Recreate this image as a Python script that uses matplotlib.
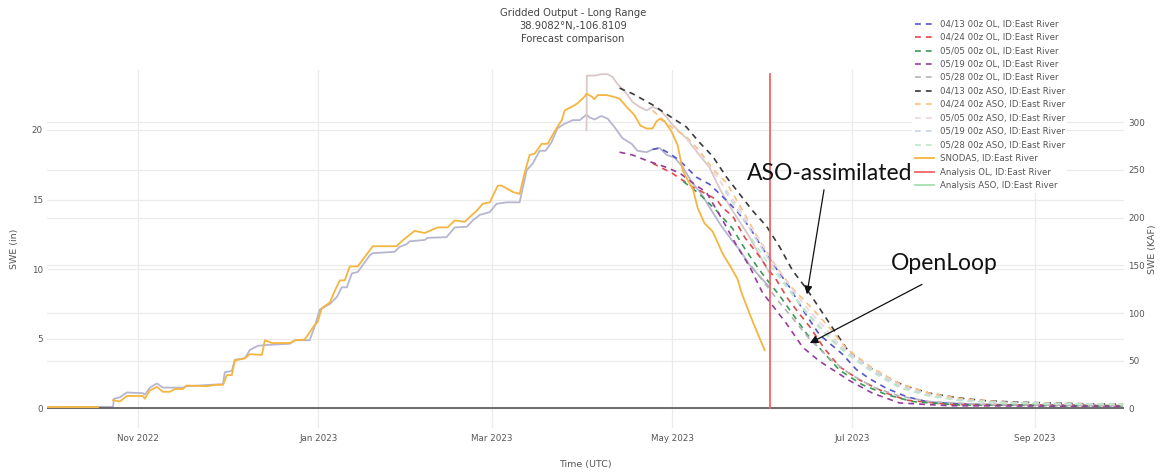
import numpy as np
import matplotlib
matplotlib.use('Agg')
import matplotlib.pyplot as plt
import matplotlib.dates as mdates

# SWE in inches, x = days since 2022-10-01 (start of water year)
nan = np.nan

snodas_day = [0, 17.3, 20, 22.4, 24.7, 27.1, 32.5, 33.2, 34.9, 37.3, 39.3, 41.7, 43.4, 46.1, 47.4, 54.2, 56.9, 59.7,
              61.0, 62.7, 63.7, 67.1, 68.8, 72.9, 73.9, 76.3, 82.4, 84.1, 87.4, 90.8, 91.8, 93.2, 95.9, 97.5, 99.3,
              101.0, 102.7, 105.4, 110.5, 118.6, 120.3, 122.0, 124.7, 128.1, 132.5, 135.9, 138.3, 141.7, 143.4,
              145.8, 147.8, 150.2, 152.9, 154.2, 158.0, 160.3, 162.0, 163.7, 165.4, 167.8, 169.8, 172.2, 174.6,
              175.6, 177.9, 179.9, 182.4, 183.0, 184.7, 185.7, 186.8, 189.8, 191.8, 194.2, 196.6, 199.3, 201.3,
              203.4, 205.4, 206.7, 207.8, 209.5, 211.8, 213.9, 215.6, 217.3, 219.0, 220.7, 223.0, 225.8, 229.2,
              232.2, 234.2, 235.6, 238.3, 241.0, 243.4]
snodas_swe = [0.1, 0.1, nan, 0.6, 0.5, 0.9, 0.9, 0.7, 1.3, 1.55, 1.2, 1.2, 1.4, 1.4, 1.65, 1.6, 1.7, 1.7,
              2.4, 2.4, 3.45, 3.6, 3.9, 3.85, 4.9, 4.7, 4.7, 4.9, 4.95, 6.0, 6.2, 7.2, 7.6, 8.4, 9.2,
              9.2, 10.2, 10.2, 11.65, 11.65, 12.0, 12.3, 12.75, 12.6, 13.0, 13.0, 13.5, 13.4, 13.75,
              14.2, 14.7, 14.8, 16.0, 16.0, 15.55, 15.4, 16.9, 18.2, 18.3, 19.0, 19.0, 19.9, 20.7,
              21.4, 21.65, 21.9, 22.4, 22.6, 22.4, 22.2, 22.5, 22.5, 22.4, 22.25, 21.65, 21.05, 20.3,
              20.1, 20.1, 20.6, 20.8, 20.6, 19.9, 18.9, 17.1, 16.4, 15.8, 14.4, 13.3, 12.7, 11.1,
              10.06, 9.3, 8.3, 6.8, 5.4, 4.2]

# model analysis curves (not in legend)
ol_ana_day = [0, 22.4, 22.7, 24.7, 27.1, 32.5, 33.2, 34.9, 37.3, 39.3, 46.1, 47.4, 59.7, 60.3, 62.7, 63.7, 67.1,
              68.8, 71.5, 73.9, 82.4, 84.1, 89.1, 90.8, 92.5, 95.9, 98.3, 100.0, 101.7, 103.4, 105.4, 109.5,
              110.5, 117.9, 119.6, 122.0, 123.0, 128.1, 129.1, 135.5, 138.3, 142.4, 144.4, 146.8, 150.2, 152.5,
              155.9, 160.3, 162.7, 164.8, 167.1, 169.1, 171.1, 173.1, 175.6, 178.3, 180.7, 183.0, 184.0, 185.7,
              188.1, 190.2, 192.5, 195.2, 198.3, 200.3, 203.4, 205.4, 207.8, 210.2, 212.9, 215.6, 217.3, 219.0,
              221.3, 223.7, 228.1, 232.2, 234.9, 238.3, 241.7, 245.1]
ol_ana_swe = [0.1, 0.12, 0.7, 0.8, 1.15, 1.1, 1.0, 1.5, 1.8, 1.5, 1.5, 1.6, 1.75, 2.6, 2.7, 3.5, 3.6,
              4.2, 4.5, 4.55, 4.65, 4.9, 4.9, 5.9, 7.1, 7.5, 8.0, 8.7, 8.7, 9.7, 9.8, 11.0,
              11.15, 11.25, 11.6, 11.8, 12.0, 12.1, 12.25, 12.3, 13.0, 13.05, 13.5, 13.9, 14.1, 14.7,
              14.8, 14.8, 17.1, 17.6, 18.5, 18.5, 19.1, 20.1, 20.45, 20.7, 20.7, 21.1, 20.9, 20.75,
              21.0, 20.8, 20.2, 19.4, 19.0, 18.5, 18.4, 18.6, 18.7, 18.2, 18.0, 17.35, 16.75, 16.15,
              15.6, 14.8, 13.3, 12.1, 11.4, 10.3, 9.5, 8.7]
aso_ana_day = [183.0, 183.1, 185.7, 188.1, 190.2, 191.8, 193.5, 196.6, 198.6, 201.0, 203.4, 205.4, 207.8,
               210.2, 211.8, 214.6, 216.9, 219.0, 221.3, 224.7, 228.1, 232.2, 235.6, 238.3, 241.7, 245.1]
aso_ana_swe = [20.0, 23.9, 23.9, 24.0, 24.0, 23.8, 23.3, 22.6, 22.0, 21.65, 21.4, 21.65, 21.45,
               20.9, 20.45, 19.85, 19.4, 18.8, 18.2, 17.3, 15.8, 14.3, 13.2, 12.3, 11.0, 9.7]

# forecasts
ol_0413_day = [205.4, 207.8, 211.2, 214.6, 220.3, 224.7, 229.2, 233.9, 238.3, 242.7, 247.5, 251.9, 256.3,
               262.0, 269.8, 274.5, 278.9, 284.7, 291.5, 299.3, 312.9, 340.0, 365.0]
ol_0413_swe = [18.6, 18.7, 18.3, 17.8, 16.6, 16.1, 15.2, 14.2, 13.0, 11.5, 10.0, 8.7, 7.1,
               5.3, 3.9, 2.8, 2.15, 1.45, 0.85, 0.45, 0.3, 0.22, 0.2]
ol_0424_day = [205.4, 212.0, 219.0, 223.6, 227.1, 229.2, 232.6, 236.6, 241.7, 244.4, 247.5, 251.2, 255.2,
               258.6, 263.7, 268.8, 275.6, 284.7, 291.5, 306.0, 365.0]
ol_0424_swe = [17.6, 16.9, 15.9, 15.4, 15.0, 14.4, 13.8, 12.3, 10.9, 10.05, 9.2, 7.9, 6.8,
               5.9, 4.3, 3.0, 2.05, 1.1, 0.6, 0.3, 0.2]
ol_0505_day = [215.8, 221.3, 227.1, 232.6, 236.0, 239.3, 243.4, 248.5, 252.5, 257.9, 263.7, 268.8, 276.6,
               284.7, 293.5, 309.5, 365.0]
ol_0505_swe = [16.3, 15.4, 14.2, 12.9, 11.7, 10.65, 9.45, 8.1, 6.9, 5.3, 3.95, 2.75, 1.7,
               1.0, 0.5, 0.25, 0.18]
ol_0519_day = [194.2, 198.6, 203.4, 210.2, 214.6, 219.0, 223.7, 229.2, 233.9, 238.3, 242.7, 246.8, 250.8,
               256.3, 262.0, 266.4, 272.2, 280.0, 289.1, 306.0, 365.0]
ol_0519_swe = [18.4, 18.2, 17.8, 17.3, 16.9, 16.2, 15.5, 13.5, 11.7, 10.2, 8.3, 7.2, 6.1,
               4.4, 3.4, 2.8, 2.0, 1.1, 0.4, 0.2, 0.15]
ol_0528_day = [239.0, 243.4, 248.5, 253.6, 258.6, 265.4, 272.2, 280.6, 289.1, 299.3, 316.3, 365.0]
ol_0528_swe = [10.2, 9.0, 7.6, 6.3, 5.0, 3.6, 2.5, 1.5, 0.9, 0.5, 0.3, 0.2]

aso_0413_day = [194.2, 198.6, 205.4, 211.8, 216.9, 221.3, 225.8, 230.5, 234.9, 239.3, 244.0, 248.5, 252.9,
                257.6, 262.0, 266.4, 272.2, 277.9, 284.7, 291.5, 299.3, 309.5, 318.6, 329.8, 346.8, 365.0]
aso_0413_swe = [23.0, 22.6, 21.8, 20.9, 20.2, 19.1, 18.1, 16.6, 15.4, 14.2, 13.1, 11.6, 9.9,
                8.6, 7.2, 5.8, 4.0, 3.1, 2.2, 1.6, 1.1, 0.75, 0.55, 0.45, 0.36, 0.3]
aso_0424_day = [205.4, 211.8, 216.9, 221.3, 225.8, 230.5, 236.0, 241.0, 247.3, 252.5, 257.6, 260.3, 265.4,
                271.2, 280.0, 289.1, 299.3, 310.0, 325.0, 345.0, 365.0]
aso_0424_swe = [21.4, 20.2, 19.5, 18.5, 17.2, 16.2, 14.2, 12.3, 10.2, 8.7, 7.6, 7.0, 5.8,
                4.3, 2.9, 1.8, 1.1, 0.7, 0.45, 0.35, 0.3]
aso_0505_day = [216.9, 221.3, 226.0, 230.0, 235.0, 241.0, 247.0, 252.0, 257.0, 262.0, 267.0, 272.0, 280.0,
                289.0, 299.0, 310.0, 325.0, 345.0, 365.0]
aso_0505_swe = [19.4, 18.3, 17.0, 15.8, 14.3, 12.3, 10.3, 8.8, 7.4, 6.2, 5.0, 4.0, 2.8,
                1.7, 1.0, 0.6, 0.42, 0.32, 0.28]
aso_0519_day = [230.0, 235.0, 241.0, 247.0, 252.0, 257.0, 262.0, 267.0, 272.0, 280.0, 289.0, 299.0, 310.0,
                325.0, 345.0, 365.0]
aso_0519_swe = [15.6, 14.0, 12.0, 10.0, 8.5, 7.1, 5.9, 4.8, 3.9, 2.7, 1.6, 0.95, 0.6,
                0.42, 0.35, 0.3]
aso_0528_day = [239.0, 244.0, 248.0, 252.0, 257.0, 262.0, 267.0, 272.0, 280.0, 289.0, 299.0, 310.0, 325.0,
                345.0, 365.0]
aso_0528_swe = [12.2, 10.6, 9.5, 8.4, 7.0, 5.8, 4.7, 3.8, 2.6, 1.5, 0.9, 0.55, 0.4,
                0.33, 0.3]

analysis_day = 245.1          # current analysis date (red line)
analysis_span = [0, 24.0]
kaf_per_in = 14.6             # right axis conversion

forecasts = [
    ('04/13 00z OL, ID:East River', ol_0413_day, ol_0413_swe, '#5555cc'),
    ('04/24 00z OL, ID:East River', ol_0424_day, ol_0424_swe, '#dd4a4a'),
    ('05/05 00z OL, ID:East River', ol_0505_day, ol_0505_swe, '#3c9a55'),
    ('05/19 00z OL, ID:East River', ol_0519_day, ol_0519_swe, '#963c9e'),
    ('05/28 00z OL, ID:East River', ol_0528_day, ol_0528_swe, '#b4b4b4'),
    ('04/13 00z ASO, ID:East River', aso_0413_day, aso_0413_swe, '#3a3a3a'),
    ('04/24 00z ASO, ID:East River', aso_0424_day, aso_0424_swe, '#f7c27e'),
    ('05/05 00z ASO, ID:East River', aso_0505_day, aso_0505_swe, '#ecd3da'),
    ('05/19 00z ASO, ID:East River', aso_0519_day, aso_0519_swe, '#c6d6e6'),
    ('05/28 00z ASO, ID:East River', aso_0528_day, aso_0528_swe, '#bde8c8'),
]

base = mdates.date2num(np.datetime64('2022-10-01'))


def wy(days):
    return base + np.asarray(days, dtype=float)


plt.rcParams['font.family'] = 'DejaVu Sans'
W, H = 1161, 475
fig = plt.figure(figsize=(W / 100, H / 100), dpi=100)
ax = fig.add_axes([47 / W, 1 - 428 / H, (1124 - 47) / W, (428 - 70) / H])
ax2 = ax.twinx()
ax.set_zorder(ax2.get_zorder() + 1)
ax.patch.set_visible(False)

#analysis lines behind everything
ax.plot(wy(ol_ana_day), ol_ana_swe, color='#b6b6d0', lw=1.3, zorder=2)
ax.plot(wy(aso_ana_day), aso_ana_swe, color='#dac8c8', lw=1.3, zorder=2)

for label, d, s, c in forecasts:
    ax.plot(wy(d), s, color=c, lw=1.2, dashes=(3.5, 3), label=label, zorder=3)

ax.plot(wy(snodas_day), snodas_swe, color='#f5b540', lw=1.3, label='SNODAS, ID:East River', zorder=4)
ax.plot(wy([analysis_day, analysis_day]), analysis_span, color='#f06464', lw=1.3,
        label='Analysis OL, ID:East River', zorder=5)
ax.plot([], [], color='#a6e0b2', lw=1.3, label='Analysis ASO, ID:East River')

# axes
ax.set_xlim(wy(0), wy(365.3))
ax.set_ylim(-1.4, 24.3)
ax2.set_ylim(-1.4 * kaf_per_in, 24.3 * kaf_per_in)
ax.set_yticks([0, 5, 10, 15, 20])
ax2.set_yticks([0, 50, 100, 150, 200, 250, 300])
ax.xaxis.set_major_locator(mdates.MonthLocator(bymonth=[1, 3, 5, 7, 9, 11]))
ax.xaxis.set_major_formatter(mdates.DateFormatter('%b %Y'))

gc = '#ebebeb'
ax.grid(True, color=gc, lw=0.9)
ax2.grid(True, axis='y', color=gc, lw=0.9)
ax.axhline(0, color='#555555', lw=1.2, zorder=2.5)
for a in (ax, ax2):
    for sp in a.spines.values():
        sp.set_visible(False)
    a.tick_params(length=0, labelsize=6.3, labelcolor='#555555')
ax.tick_params(axis='x', pad=4)
ax.tick_params(axis='y', pad=3)
ax2.tick_params(axis='y', pad=3)

fig.text(573 / W, 1 - 8 / H, 'Gridded Output - Long Range\n38.9082°N,-106.8109\nForecast comparison',
         ha='center', va='top', fontsize=7.2, color='#444444', linespacing=1.4)
fig.text(585 / W, 1 - 464 / H, 'Time (UTC)', ha='center', va='center', fontsize=6.8, color='#555555')
fig.text(14 / W, 1 - 249 / H, 'SWE (in)', ha='center', va='center', rotation=90, fontsize=6.8, color='#555555')
fig.text(1152 / W, 1 - 249 / H, 'SWE (KAF)', ha='center', va='center', rotation=90, fontsize=6.8,
         color='#555555')

#annotations
ax.text(wy(237.3), 16.9, 'ASO-assimilated', fontsize=16.5, family='Lato', color='#111111', va='center', zorder=6)
ax.annotate('', xy=(wy(257.6), 8.0), xytext=(wy(263.7), 15.9),
            arrowprops=dict(arrowstyle='-|>', color='#111111', lw=0.9, mutation_scale=12), zorder=6)
ax.text(wy(286.3), 10.4, 'OpenLoop', fontsize=16.5, family='Lato', color='#111111', va='center', zorder=6)
ax.annotate('', xy=(wy(257.9), 4.6), xytext=(wy(297.6), 9.0),
            arrowprops=dict(arrowstyle='-|>', color='#111111', lw=0.9, mutation_scale=12), zorder=6)

handles, labels = ax.get_legend_handles_labels()
leg = fig.legend(handles, labels, loc='upper left', bbox_to_anchor=(912 / W, 1 - 17 / H), fontsize=6.2,
                 frameon=True, framealpha=1, facecolor='white', edgecolor='none', borderaxespad=0,
                 borderpad=0.3, handlelength=2.3, handletextpad=0.6, labelspacing=0.52)
for t in leg.get_texts():
    t.set_color('#555555')

fig.savefig('out.png', dpi=100)
